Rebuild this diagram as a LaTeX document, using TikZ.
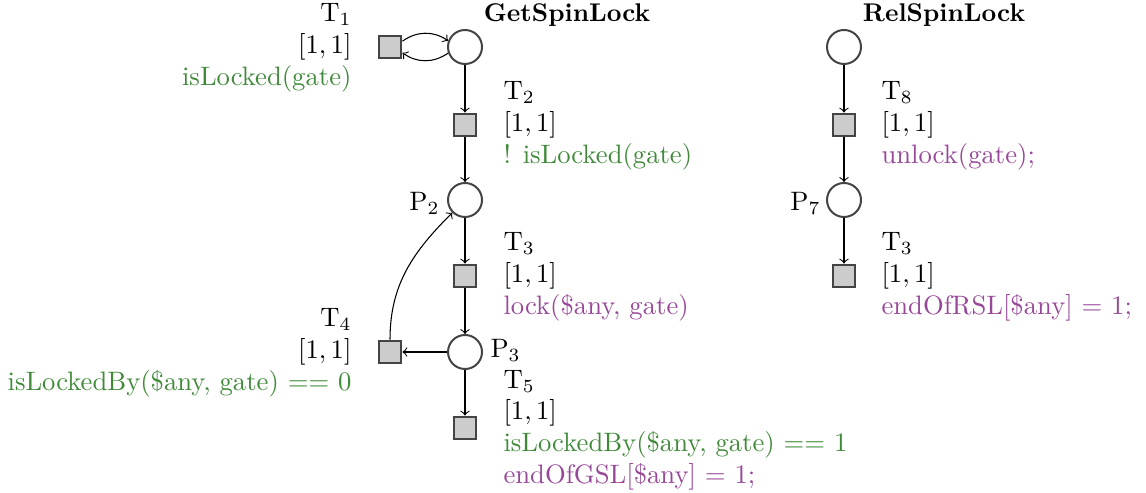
\documentclass[tikz,border=0pt]{standalone}
\usepackage{amsmath}
\definecolor{gcol}{RGB}{64,138,58}
\definecolor{pcol}{RGB}{152,72,152}
\definecolor{bcol}{RGB}{68,68,68}
\definecolor{tfill}{RGB}{204,204,204}
\begin{document}
\begin{tikzpicture}[x=0.375pt,y=-0.375pt,
  place/.style={circle, draw=bcol, line width=0.75pt, fill=white, minimum size=12.75pt, inner sep=0pt},
  trans/.style={rectangle, draw=bcol, line width=0.75pt, fill=tfill, minimum size=8.6pt, inner sep=0pt},
  lab/.style={inner sep=0pt, font=\fontsize{10}{11.9}\selectfont},
  labl/.style={lab, align=left, anchor=west},
  labr/.style={lab, align=right, anchor=east},
  title/.style={inner sep=0pt, font=\fontsize{9.6}{12}\selectfont\bfseries},
  arc/.style={->, line width=0.4pt}]
\useasboundingbox (0,0) rectangle (1146,493);
% titles
\node[title] (tg) at (567,15) {GetSpinLock};
\node[title] (tr) at (944,15) {RelSpinLock};
% GetSpinLock net
\node[place] (p1) at (465,47) {};
\node[trans] (t1) at (390,47) {};
\node[trans] (t2) at (465,125) {};
\node[place] (p2) at (465,200) {};
\node[trans] (t3) at (465,276) {};
\node[place] (p3) at (465,352) {};
\node[trans] (t4) at (390,352) {};
\node[trans] (t5) at (465,428) {};
% RelSpinLock net
\node[place] (q1) at (844,47) {};
\node[trans] (t8) at (844,125) {};
\node[place] (p7) at (844,200) {};
\node[trans] (t9) at (844,276) {};
% arcs
\draw[arc] (t1.25) to[bend left=35] (p1.160);
\draw[arc] (p1.200) to[bend left=35] (t1.-25);
\draw[arc] (p1) -- (t2);
\draw[arc] (t2) -- (p2);
\draw[arc] (p2) -- (t3);
\draw[arc] (t3) -- (p3);
\draw[arc] (p3) -- (t4);
\draw[arc] (p3) -- (t5);
\draw[arc] (t4.north) to[out=90,in=225] (p2.225);
\draw[arc] (q1) -- (t8);
\draw[arc] (t8) -- (p7);
\draw[arc] (p7) -- (t9);
% place labels
\node[lab, anchor=east] (lp2) at (440,203) {P$_2$};
\node[lab, anchor=west] (lp3) at (490,350) {P$_3$};
\node[lab, anchor=east] (lp7) at (821,203) {P$_7$};
% transition labels
\node[labr] (l1) at (352,48) {T$_1$\\$[1,1]$\\\textcolor{gcol}{isLocked(gate)}};
\node[labr] (l4) at (352,353) {T$_4$\\$[1,1]$\\\textcolor{gcol}{isLockedBy(\$any, gate) == 0}};
\node[labl] (l2) at (503,126) {T$_2$\\$[1,1]$\\\textcolor{gcol}{! isLocked(gate)}};
\node[labl] (l3) at (503,277) {T$_3$\\$[1,1]$\\\textcolor{pcol}{lock(\$any, gate)}};
\node[labl] (l5) at (503,430) {T$_5$\\$[1,1]$\\\textcolor{gcol}{isLockedBy(\$any, gate) == 1}\\\textcolor{pcol}{endOfGSL$[$\$any$]$ = 1;}};
\node[labl] (l8) at (881,126) {T$_8$\\$[1,1]$\\\textcolor{pcol}{unlock(gate);}};
\node[labl] (l9) at (881,277) {T$_3$\\$[1,1]$\\\textcolor{pcol}{endOfRSL$[$\$any$]$ = 1;}};
\end{tikzpicture}
\end{document}
